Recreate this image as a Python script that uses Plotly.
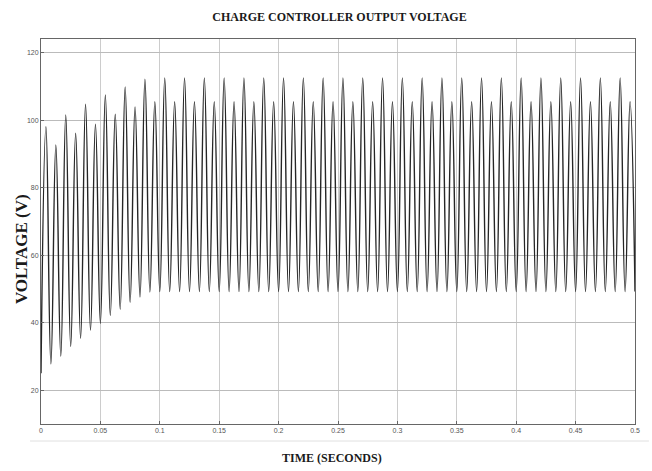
import plotly.graph_objects as go

# Extremes of the waveform (alternating trough / peak),
# one extreme every half-cycle of the 60 Hz ripple (1/240 s apart).
trough_values = [25.0, 27.8, 30.1, 33.0, 35.4, 37.8, 39.8, 42.1, 44.0, 46.0, 47.6, 49.1] + [49.2] * 49
peak_values = [98.0, 92.6, 101.5, 96.1, 104.7, 98.8, 107.4, 101.7, 109.8, 103.9, 112.1, 105.4] + [112.5, 105.4] * 24
half_cycle = 1 / 240  # seconds between consecutive extremes

voltage = []
for i in range(len(peak_values)):
    voltage.append(trough_values[i])
    voltage.append(peak_values[i])
voltage.append(trough_values[len(peak_values)])
time_s = [i * half_cycle for i in range(len(voltage))]

x_ticks = [0, 0.05, 0.1, 0.15, 0.2, 0.25, 0.3, 0.35, 0.4, 0.45, 0.5]
x_tick_text = ["0", "0.05", "0.1", "0.15", "0.2", "0.25", "0.3", "0.35", "0.4", "0.45", "0.5"]
y_ticks = [20, 40, 60, 80, 100, 120]

fig = go.Figure()
fig.add_trace(go.Scatter(
    x=time_s, y=voltage, mode="lines",
    line=dict(color="#262626", width=1.4, shape="spline", smoothing=1.3),
    hoverinfo="skip", showlegend=False,
))

serif = "Liberation Serif"
tick_font = dict(family="Liberation Sans", size=7, color="#555555")

fig.update_layout(
    width=652, height=471,
    margin=dict(l=41, r=14, t=39, b=47),
    paper_bgcolor="white", plot_bgcolor="white",
    title=dict(text="<b>CHARGE CONTROLLER OUTPUT VOLTAGE</b>",
               font=dict(family=serif, size=12, color="#1a1a1a"),
               x=(41 + 638) / 2 / 652, xanchor="center",
               y=1 - 17 / 471, yanchor="middle"),
    xaxis=dict(range=[0, 0.5], tickvals=x_ticks, ticktext=x_tick_text,
               showgrid=True, gridcolor="#cccccc", gridwidth=1,
               showline=True, linecolor="#666666", linewidth=1, mirror=True,
               ticks="inside", ticklen=3, tickcolor="#666666",
               tickfont=tick_font, zeroline=False),
    yaxis=dict(range=[10, 124], tickvals=y_ticks,
               showgrid=True, gridcolor="#bbbbbb", gridwidth=1,
               showline=True, linecolor="#666666", linewidth=1, mirror=True,
               ticks="inside", ticklen=3, tickcolor="#666666",
               tickfont=tick_font, zeroline=False),
    annotations=[
        dict(text="<b>TIME (SECONDS)</b>", xref="paper", yref="paper",
             x=(333 - 41) / 597, y=-(458 - 424) / 385, xanchor="center", yanchor="middle",
             showarrow=False, font=dict(family=serif, size=12, color="#1a1a1a")),
        dict(text="<b>VOLTAGE (V)</b>", xref="paper", yref="paper",
             x=-(41 - 22) / 597, y=(424 - 249) / 385, xanchor="center", yanchor="middle",
             textangle=-90, showarrow=False,
             font=dict(family=serif, size=17, color="#1a1a1a")),
    ],
    shapes=[
        dict(type="line", xref="paper", yref="paper",
             x0=-(41 - 30) / 597, x1=(652 - 41) / 597,
             y0=-(441 - 424) / 385, y1=-(441 - 424) / 385,
             line=dict(color="#e0e0e0", width=1)),
    ],
)

fig.write_html("out.html")
